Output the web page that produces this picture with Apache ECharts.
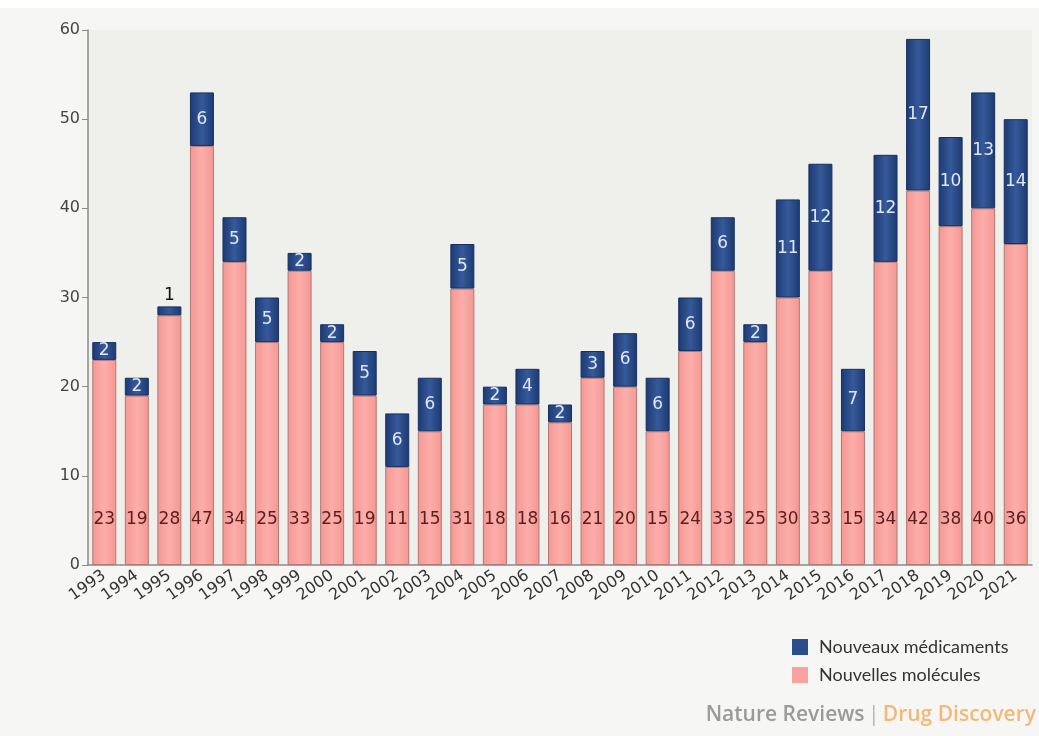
<!DOCTYPE html>
<html>
<head>
<meta charset="utf-8">
<script src="https://cdn.jsdelivr.net/npm/echarts@6/dist/echarts.min.js"></script>
<style>
  html, body { margin: 0; padding: 0; background: #ffffff; }
  #chart { width: 1039px; height: 736px; }
</style>
</head>
<body>
<div id="chart"></div>
<script>
// Approvals per year
const years = ['1993','1994','1995','1996','1997','1998','1999','2000','2001','2002','2003','2004','2005','2006','2007','2008','2009','2010','2011','2012','2013','2014','2015','2016','2017','2018','2019','2020','2021'];
const nouvellesMolecules = [23,19,28,47,34,25,33,25,19,11,15,31,18,18,16,21,20,15,24,33,25,30,33,15,34,42,38,40,36];
const nouveauxMedicaments = [2,2,1,6,5,5,2,2,5,6,6,5,2,4,2,3,6,6,6,6,2,11,12,7,12,17,10,13,14];
const yTicks = [0, 10, 20, 30, 40, 50, 60];

const chart = echarts.init(document.getElementById('chart'));

const numFont = 'DejaVu Sans, Verdana, sans-serif';
const pinkFill = new echarts.graphic.LinearGradient(0, 0, 1, 0, [
  { offset: 0, color: '#f59793' },
  { offset: 0.5, color: '#fcaeaa' },
  { offset: 1, color: '#f59793' }
]);
const navyFill = new echarts.graphic.LinearGradient(0, 0, 1, 0, [
  { offset: 0, color: '#1c3a73' },
  { offset: 0.5, color: '#36599a' },
  { offset: 1, color: '#1c3a73' }
]);

// A segment too thin to hold its number gets the number above the bar
const navyData = nouveauxMedicaments.map(v => v < 2
  ? { value: v, label: { position: 'top', color: '#111111', distance: 2 } }
  : v);

chart.setOption({
  backgroundColor: '#f6f6f5',
  animation: false,
  grid: { left: 88, right: 7, top: 30, bottom: 171, show: true, backgroundColor: '#efefeb', borderWidth: 0 },
  legend: {
    data: [
      { name: 'Nouveaux médicaments', itemStyle: { color: '#2c4d8c', borderWidth: 0 } },
      { name: 'Nouvelles molécules', itemStyle: { color: '#f9a2a0', borderWidth: 0 } }
    ],
    orient: 'vertical',
    left: 792,
    top: 638,
    padding: 0,
    itemWidth: 16,
    itemHeight: 16,
    itemGap: 10,
    icon: 'rect',
    textStyle: { fontFamily: 'Lato, Open Sans, sans-serif', fontSize: 18, color: '#333333', padding: [0, 0, 0, 6] }
  },
  xAxis: {
    type: 'category',
    data: years,
    axisLine: { lineStyle: { color: '#8a8a8a', width: 1.5 } },
    axisTick: { alignWithLabel: true, length: 8, lineStyle: { color: '#8a8a8a' } },
    axisLabel: { rotate: 35, interval: 0, margin: 9, fontFamily: numFont, fontSize: 16, color: '#333333' }
  },
  yAxis: {
    type: 'value',
    min: 0,
    max: 60,
    interval: 10,
    splitLine: { show: false },
    axisLine: { show: true, lineStyle: { color: '#8a8a8a', width: 1.5 } },
    axisTick: { show: true, length: 6, lineStyle: { color: '#8a8a8a' } },
    axisLabel: {
      margin: 8, fontFamily: numFont, fontSize: 16, color: '#444444',
      formatter: v => yTicks.includes(v) ? String(v) : ''
    }
  },
  series: [
    {
      name: 'Nouvelles molécules',
      type: 'bar',
      stack: 'total',
      barWidth: 24,
      data: nouvellesMolecules,
      itemStyle: { color: pinkFill, borderColor: '#b07876', borderWidth: 1 },
      label: {
        show: true, position: 'insideBottom', distance: 37,
        fontFamily: numFont, fontSize: 17, color: '#5a1e1e'
      }
    },
    {
      name: 'Nouveaux médicaments',
      type: 'bar',
      stack: 'total',
      barWidth: 24,
      data: navyData,
      itemStyle: { color: navyFill, borderColor: '#17305f', borderWidth: 1 },
      label: {
        show: true, position: 'inside',
        fontFamily: numFont, fontSize: 17, color: '#dfe7f4'
      }
    }
  ],
  graphic: [
    {
      type: 'rect',
      left: 0, top: 0,
      shape: { width: 1039, height: 8 },
      style: { fill: '#ffffff' }
    },
    {
      type: 'text',
      right: 3,
      top: 705,
      style: {
        text: '{a|Nature Reviews} {s||} {b|Drug Discovery}',
        rich: {
          a: { fontFamily: 'Open Sans, sans-serif', fontWeight: 600, fontSize: 21, fill: '#9a9a9a' },
          s: { fontFamily: 'Open Sans, sans-serif', fontSize: 21, fill: '#b5b5b5' },
          b: { fontFamily: 'Open Sans, sans-serif', fontWeight: 600, fontSize: 21, fill: '#f2b978' }
        }
      }
    }
  ]
});
</script>
</body>
</html>
